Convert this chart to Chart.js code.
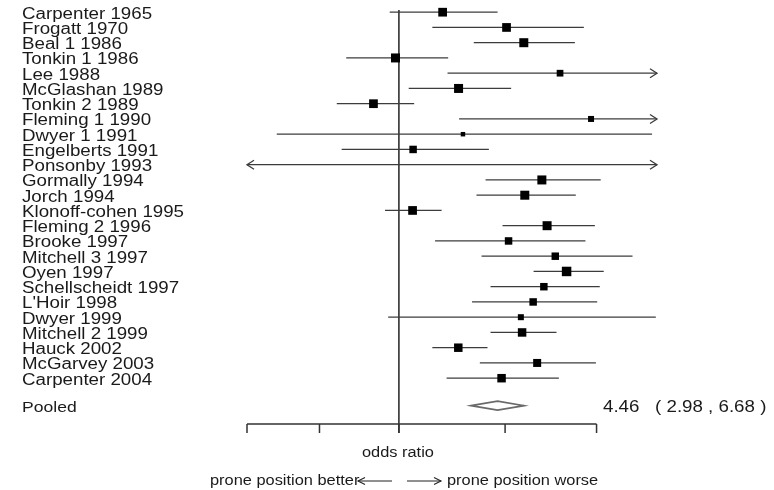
<!DOCTYPE html>
<html>
<head>
<meta charset="utf-8">
<script src="https://cdn.jsdelivr.net/npm/chart.js@4.4.1/dist/chart.umd.min.js"></script>
<style>
  html, body { margin: 0; padding: 0; background: #ffffff; }
  #wrap { width: 774px; height: 490px; }
</style>
</head>
<body>
<div id="wrap"><canvas id="c" width="774" height="490"></canvas></div>
<script>
// ---- data ----
const studies = [
  "Carpenter 1965", "Frogatt 1970", "Beal 1 1986", "Tonkin 1 1986", "Lee 1988",
  "McGlashan 1989", "Tonkin 2 1989", "Fleming 1 1990", "Dwyer 1 1991", "Engelberts 1991",
  "Ponsonby 1993", "Gormally 1994", "Jorch 1994", "Klonoff-cohen 1995", "Fleming 2 1996",
  "Brooke 1997", "Mitchell 3 1997", "Oyen 1997", "Schellscheidt 1997", "L'Hoir 1998",
  "Dwyer 1999", "Mitchell 2 1999", "Hauck 2002", "McGarvey 2003", "Carpenter 2004"
];
const estimates = [1.94, 5.11, 6.64, 0.95, 11.5, 2.47, 0.68, 18.4, 2.64, 1.24,
  null, 8.73, 6.74, 1.23, 9.45, 5.27, 10.7, 12.7, 9.0, 7.65, 6.35, 6.47, 2.46, 8.13, 4.74];
const lowerCI = [0.87, 1.66, 3.11, 0.45, 2.09, 1.16, 0.39, 2.49, 0.157, 0.42,
  0.05, 3.72, 3.24, 0.81, 4.81, 1.73, 3.50, 7.70, 4.01, 3.03, 0.85, 4.01, 1.66, 3.41, 2.06];
const upperCI = [4.46, 16.5, 14.4, 2.11, 70, 5.48, 1.26, 90, 46.4, 3.91,
  120, 21.3, 14.6, 1.91, 19.5, 16.9, 34.5, 22.3, 21.0, 20.2, 49.1, 10.9, 3.83, 19.8, 11.3];
const weights = [76, 76, 81, 81, 45, 81, 76, 36, 20, 56,
  0, 81, 81, 76, 81, 56, 56, 90, 56, 56, 36, 72, 72, 64, 72];
const pooledLabel = "Pooled";
const pooledEstimate = 4.46;
const pooledLower = 2.98;
const pooledUpper = 6.68;
const axisTicks = [0.1, 0.3, 1, 5, 20];
const xAxisTitle = "odds ratio";
const leftNote = "prone position better";
const rightNote = "prone position worse";

// ---- layout / style ----
const ROW_PX = 15.25;
const H_STRETCH = 1.17;
const FONT = "Liberation Sans, Arial, sans-serif";
const TEXT_COLOR = "#1a1a1a";
const pooledRow = studies.length + 0.8;
const axisRow = studies.length + 2;

const points = [];
studies.forEach((s, i) => { if (estimates[i] !== null) points.push({ x: estimates[i], y: i, w: weights[i] }); });

function stretchedText(ctx, text, x, y, size, align) {
  ctx.save();
  ctx.font = size + "px " + FONT;
  ctx.fillStyle = TEXT_COLOR;
  ctx.textAlign = align || "left";
  ctx.textBaseline = "middle";
  ctx.translate(x, y);
  ctx.scale(H_STRETCH, 1);
  ctx.fillText(text, 0, 0);
  ctx.restore();
}

function arrowHead(ctx, x, y, dir, len, half) {
  ctx.beginPath();
  ctx.moveTo(x - dir * len, y - half);
  ctx.lineTo(x, y);
  ctx.lineTo(x - dir * len, y + half);
  ctx.stroke();
}

const forestPlugin = {
  id: "forest",
  beforeDatasetsDraw(chart) {
    const ctx = chart.ctx;
    const xs = chart.scales.x, ys = chart.scales.y;
    const xmin = xs.min, xmax = xs.max;
    ctx.save();
    ctx.lineCap = "butt";

    // reference line at OR = 1
    const x1 = xs.getPixelForValue(1);
    const axisY = ys.getPixelForValue(axisRow);
    ctx.strokeStyle = "#222";
    ctx.lineWidth = 1.5;
    ctx.beginPath();
    ctx.moveTo(x1, ys.getPixelForValue(-0.15));
    ctx.lineTo(x1, axisY + 9);
    ctx.stroke();

    // confidence intervals
    ctx.strokeStyle = "#3c3c3c";
    ctx.lineWidth = 1.3;
    studies.forEach((s, i) => {
      const y = ys.getPixelForValue(i);
      const lo = Math.max(lowerCI[i], xmin), hi = Math.min(upperCI[i], xmax);
      const xl = xs.getPixelForValue(lo), xh = xs.getPixelForValue(hi);
      ctx.beginPath();
      ctx.moveTo(xl, y);
      ctx.lineTo(xh, y);
      ctx.stroke();
      if (upperCI[i] > xmax) arrowHead(ctx, xh, y, 1, 7, 4.5);
      if (lowerCI[i] < xmin) arrowHead(ctx, xl, y, -1, 7, 4.5);
    });

    // pooled diamond
    const py = ys.getPixelForValue(pooledRow);
    ctx.beginPath();
    ctx.moveTo(xs.getPixelForValue(pooledLower), py);
    ctx.lineTo(xs.getPixelForValue(pooledEstimate), py - 4.5);
    ctx.lineTo(xs.getPixelForValue(pooledUpper), py);
    ctx.lineTo(xs.getPixelForValue(pooledEstimate), py + 4.5);
    ctx.closePath();
    ctx.fillStyle = "#ffffff";
    ctx.fill();
    ctx.strokeStyle = "#6a6a6a";
    ctx.lineWidth = 1.6;
    ctx.stroke();

    // x axis with ticks
    ctx.strokeStyle = "#333";
    ctx.lineWidth = 1.5;
    const ax0 = xs.getPixelForValue(axisTicks[0]);
    const ax1 = xs.getPixelForValue(axisTicks[axisTicks.length - 1]);
    ctx.beginPath();
    ctx.moveTo(ax0, axisY);
    ctx.lineTo(ax1, axisY);
    axisTicks.forEach(t => {
      const tx = xs.getPixelForValue(t);
      ctx.moveTo(tx, axisY);
      ctx.lineTo(tx, axisY + 9);
    });
    ctx.stroke();

    // study labels
    studies.forEach((s, i) => stretchedText(ctx, s, 22, ys.getPixelForValue(i) + 2, 16, "left"));
    stretchedText(ctx, pooledLabel, 22, py + 2, 15, "left");
    const summary = pooledEstimate.toFixed(2) + "   ( " + pooledLower.toFixed(2) + " , " + pooledUpper.toFixed(2) + " )";
    stretchedText(ctx, summary, 603, py + 2, 16, "left");

    // axis title and direction notes
    stretchedText(ctx, xAxisTitle, x1 - 1, axisY + 29, 14, "center");
    const ny = axisY + 57;
    stretchedText(ctx, leftNote, 210, ny, 14, "left");
    stretchedText(ctx, rightNote, 447, ny, 14, "left");
    ctx.strokeStyle = "#222";
    ctx.lineWidth = 1.1;
    ctx.beginPath();
    ctx.moveTo(358, ny); ctx.lineTo(392, ny);
    ctx.moveTo(407, ny); ctx.lineTo(441, ny);
    ctx.stroke();
    arrowHead(ctx, 358, ny, -1, 7, 3.5);
    arrowHead(ctx, 441, ny, 1, 7, 3.5);

    ctx.restore();
  }
};

new Chart(document.getElementById("c"), {
  type: "scatter",
  data: {
    datasets: [{
      data: points,
      pointStyle: "rect",
      pointRadius: points.map(p => Math.sqrt(p.w) / (2 * Math.SQRT1_2)),
      pointHoverRadius: points.map(p => Math.sqrt(p.w) / (2 * Math.SQRT1_2)),
      backgroundColor: "#000000",
      borderWidth: 0
    }]
  },
  options: {
    responsive: false,
    animation: false,
    events: [],
    layout: { autoPadding: false, padding: { left: 247, right: 117, top: 0, bottom: 0 } },
    plugins: { legend: { display: false }, tooltip: { enabled: false } },
    scales: {
      x: { type: "logarithmic", min: 0.1, max: 50, bounds: "data", display: false },
      y: { type: "linear", min: -0.8, max: -0.8 + 490 / ROW_PX, reverse: true, display: false }
    }
  },
  plugins: [forestPlugin]
});
</script>
</body>
</html>
